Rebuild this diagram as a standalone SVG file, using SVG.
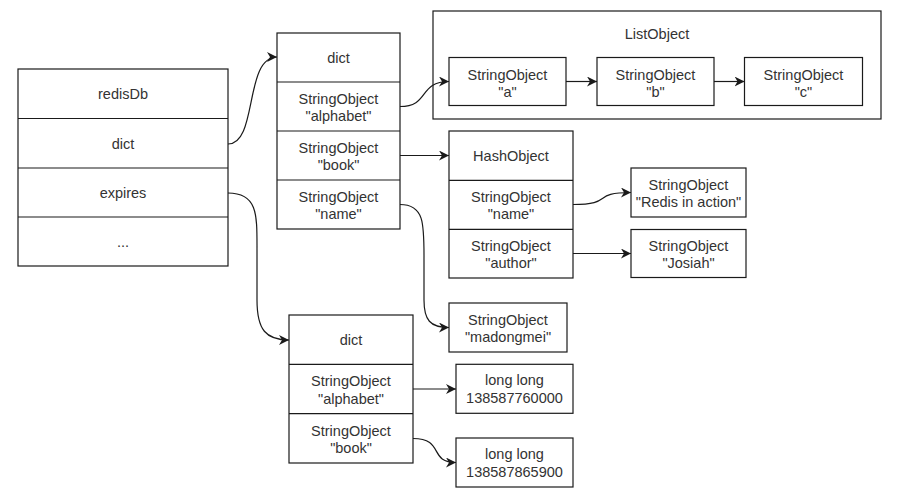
<svg xmlns="http://www.w3.org/2000/svg" width="910" height="504" viewBox="0 0 910 504">
  <style>
    .box { fill: #ffffff; stroke: #1a1a1a; stroke-width: 1.2; }
    .sep { stroke: #1a1a1a; stroke-width: 1.2; }
    .lbl { font-family: "Liberation Sans", Arial, sans-serif; font-size: 14.5px; fill: #333333; text-anchor: middle; }
    .edge { fill: none; stroke: #1a1a1a; stroke-width: 1.2; marker-end: url(#arrow); }
  </style>
  <defs>
    <marker id="arrow" markerUnits="userSpaceOnUse" markerWidth="12" markerHeight="10" refX="10" refY="5" orient="auto">
      <path d="M0,0 L10,5 L0,10 L3,5 Z" fill="#1a1a1a"/>
    </marker>
  </defs>
  <rect width="910" height="504" fill="#ffffff"/>

  <!-- redisDb table -->
  <g id="redisDb">
    <rect class="box" x="18" y="69" width="210" height="197"/>
    <line class="sep" x1="18" y1="118.5" x2="228" y2="118.5"/>
    <line class="sep" x1="18" y1="168" x2="228" y2="168"/>
    <line class="sep" x1="18" y1="217" x2="228" y2="217"/>
    <text class="lbl" x="123" y="99">redisDb</text>
    <text class="lbl" x="123" y="148.5">dict</text>
    <text class="lbl" x="123" y="198">expires</text>
    <text class="lbl" x="123" y="247" fill="#777777">...</text>
  </g>

  <!-- main keyspace dict -->
  <g id="dict-keys">
    <rect class="box" x="277" y="33" width="123" height="196"/>
    <line class="sep" x1="277" y1="82" x2="400" y2="82"/>
    <line class="sep" x1="277" y1="131" x2="400" y2="131"/>
    <line class="sep" x1="277" y1="180" x2="400" y2="180"/>
    <text class="lbl" x="338.5" y="63">dict</text>
    <text class="lbl" x="338.5" y="103.5">StringObject</text>
    <text class="lbl" x="338.5" y="121">"alphabet"</text>
    <text class="lbl" x="338.5" y="152.5">StringObject</text>
    <text class="lbl" x="338.5" y="170">"book"</text>
    <text class="lbl" x="338.5" y="201.5">StringObject</text>
    <text class="lbl" x="338.5" y="219">"name"</text>
  </g>

  <!-- list value -->
  <g id="list-object">
    <rect class="box" x="433" y="11" width="448" height="108"/>
    <text class="lbl" x="657" y="39">ListObject</text>
  </g>
  <g id="str-a">
    <rect class="box" x="449" y="57.5" width="117" height="48"/>
    <text class="lbl" x="507.5" y="79.5">StringObject</text>
    <text class="lbl" x="507.5" y="97">"a"</text>
  </g>
  <g id="str-b">
    <rect class="box" x="597" y="57.5" width="117" height="48"/>
    <text class="lbl" x="655.5" y="79.5">StringObject</text>
    <text class="lbl" x="655.5" y="97">"b"</text>
  </g>
  <g id="str-c">
    <rect class="box" x="744.5" y="57.5" width="118" height="48"/>
    <text class="lbl" x="803.5" y="79.5">StringObject</text>
    <text class="lbl" x="803.5" y="97">"c"</text>
  </g>

  <!-- hash value -->
  <g id="hash-object">
    <rect class="box" x="449" y="131" width="124" height="147"/>
    <line class="sep" x1="449" y1="180.3" x2="573" y2="180.3"/>
    <line class="sep" x1="449" y1="229.3" x2="573" y2="229.3"/>
    <text class="lbl" x="511" y="161">HashObject</text>
    <text class="lbl" x="511" y="201.5">StringObject</text>
    <text class="lbl" x="511" y="219">"name"</text>
    <text class="lbl" x="511" y="250.5">StringObject</text>
    <text class="lbl" x="511" y="268">"author"</text>
  </g>
  <g id="str-redis-in-action">
    <rect class="box" x="631" y="168" width="115" height="49"/>
    <text class="lbl" x="688.5" y="189.5">StringObject</text>
    <text class="lbl" x="688.5" y="207">"Redis in action"</text>
  </g>
  <g id="str-josiah">
    <rect class="box" x="631" y="229.5" width="115" height="48"/>
    <text class="lbl" x="688.5" y="250.5">StringObject</text>
    <text class="lbl" x="688.5" y="268">"Josiah"</text>
  </g>

  <!-- string value -->
  <g id="str-madongmei">
    <rect class="box" x="449" y="303" width="118" height="49"/>
    <text class="lbl" x="508" y="324.5">StringObject</text>
    <text class="lbl" x="508" y="342">"madongmei"</text>
  </g>

  <!-- expires dict -->
  <g id="dict-expires">
    <rect class="box" x="289" y="315" width="124" height="148"/>
    <line class="sep" x1="289" y1="364.3" x2="413" y2="364.3"/>
    <line class="sep" x1="289" y1="413.7" x2="413" y2="413.7"/>
    <text class="lbl" x="351" y="345">dict</text>
    <text class="lbl" x="351" y="386">StringObject</text>
    <text class="lbl" x="351" y="403.5">"alphabet"</text>
    <text class="lbl" x="351" y="435.5">StringObject</text>
    <text class="lbl" x="351" y="453">"book"</text>
  </g>
  <g id="expire-alphabet">
    <rect class="box" x="456" y="364.3" width="117" height="49"/>
    <text class="lbl" x="514.5" y="385">long long</text>
    <text class="lbl" x="514.5" y="403">138587760000</text>
  </g>
  <g id="expire-book">
    <rect class="box" x="456" y="438" width="117" height="49"/>
    <text class="lbl" x="514.5" y="459">long long</text>
    <text class="lbl" x="514.5" y="477">138587865900</text>
  </g>

  <!-- connectors -->
  <g id="connectors">
    <path class="edge" d="M228,144 C258,144 244,57 277,57"/>
    <path class="edge" d="M228,193 C258,193 257,215 257,250 L257,300 C257,330 266,340 289,340"/>
    <path class="edge" d="M400,106.5 C430,106.5 418,81.5 449,81.5"/>
    <path class="edge" d="M566,81.5 L597,81.5"/>
    <path class="edge" d="M714,81.5 L744.5,81.5"/>
    <path class="edge" d="M400,155.5 L449,155.5"/>
    <path class="edge" d="M400,204.5 C425,204.5 424,225 424,260 L424,300 C424,320 430,327.5 449,327.5"/>
    <path class="edge" d="M573,204.5 C615,204.5 590,192.5 631,192.5"/>
    <path class="edge" d="M573,253.5 L631,253.5"/>
    <path class="edge" d="M413,389 L456,389"/>
    <path class="edge" d="M413,438.5 C445,438.5 428,462.5 456,462.5"/>
  </g>
</svg>
